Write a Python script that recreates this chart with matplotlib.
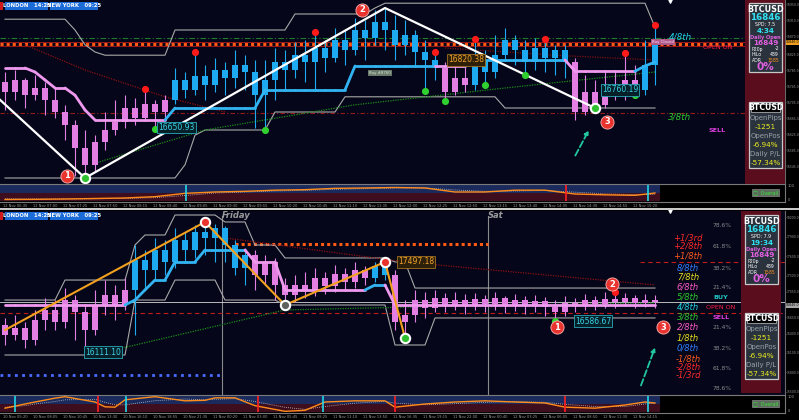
import matplotlib
matplotlib.use("Agg")
import matplotlib.pyplot as plt
import matplotlib.transforms as mtrans
from matplotlib.patches import Rectangle
from matplotlib.ticker import FormatStrFormatter

W, H = 799, 420
BG = "#05061a"
PINK = "#e37ee3"
BLUE = "#1daaf0"
GRAY = "#a8a8a8"

# ---------------- upper chart ----------------
top_open0 = 16755
top_close = [16730, 16760, 16722, 16740, 16710, 16680, 16648, 16590, 16548, 16605,
             16635, 16655, 16690, 16665, 16700, 16680, 16710, 16760, 16735, 16770,
             16748, 16785, 16765, 16798, 16780, 16722, 16760, 16805, 16785, 16822,
             16805, 16840, 16815, 16860, 16835, 16885, 16865, 16905, 16885, 16848,
             16872, 16830, 16810, 16790, 16730, 16765, 16748, 16810, 16780, 16822,
             16860, 16835, 16805, 16840, 16815, 16835, 16805, 16680, 16730, 16698,
             16740, 16720, 16760, 16735, 16798, 16848]
top_high = [16780, 16785, 16765, 16772, 16755, 16740, 16698, 16660, 16635, 16622,
            16680, 16710, 16722, 16715, 16730, 16710, 16722, 16790, 16780, 16822,
            16798, 16815, 16805, 16835, 16822, 16810, 16810, 16840, 16835, 16855,
            16860, 16872, 16860, 16890, 16885, 16915, 16910, 16935, 16940, 16922,
            16910, 16885, 16860, 16822, 16805, 16798, 16810, 16855, 16835, 16872,
            16890, 16872, 16860, 16865, 16855, 16848, 16848, 16815, 16772, 16760,
            16785, 16780, 16820, 16798, 16860, 16890]
top_low = [16685, 16710, 16690, 16710, 16672, 16665, 16610, 16520, 16515, 16530,
           16585, 16622, 16640, 16648, 16660, 16645, 16665, 16700, 16715, 16722,
           16710, 16730, 16722, 16740, 16735, 16640, 16642, 16710, 16735, 16765,
           16755, 16735, 16780, 16805, 16798, 16822, 16810, 16848, 16835, 16810,
           16822, 16798, 16740, 16760, 16715, 16722, 16730, 16735, 16755, 16765,
           16810, 16798, 16780, 16785, 16780, 16772, 16765, 16660, 16672, 16690,
           16690, 16710, 16710, 16730, 16722, 16748]
top_trend = "p" * 17 + "b" * 27 + "p" * 3 + "b" * 10 + "p" * 7 + "b" * 2
top_trail = ([16790] * 3 + [16780, 16760, 16740, 16740, 16722, 16685] + [16660] * 8
             + [16690] * 9 + [16735] * 9 + [16795] * 12 + [16802] + [16810] * 9
             + [16782] * 7 + [16795, 16805])
top_env_hi = ([16912] * 7 + [16885, 16848, 16830] + [16822] * 7 + [16885] * 12
              + [16925] * 8 + [16940] + [16952] * 27 + [16892])
top_env_lo = ([16515] * 18 + [16548, 16622] + [16635] * 7 + [16680] * 7
              + [16718] * 16 + [16690] * 16)
top_ma_red_x = [2, 8, 16, 22]
top_ma_red = [16848, 16785, 16718, 16680]
top_ma_red2_x = [44, 55, 65]
top_ma_red2 = [16840, 16822, 16810]
top_ma_green_x = [9, 20, 35, 50, 65]
top_ma_green = [16552, 16635, 16698, 16740, 16780]
top_zz_x = [-1, 8, 38, 59]
top_zz = [16722, 16515, 16940, 16690]
top_red_dots = [14, 19, 31, 43, 47, 54, 62, 65]
top_green_dots = [15, 26, 42, 44, 48, 52, 63]
top_nums = [(6.2, 16520, "1"), (35.7, 16935, "2"), (60.2, 16655, "3")]
top_tags = [(15.3, 16642, "16650.93", "teal"), (44.3, 16810, "16820.38", "orange"),
            (59.7, 16735, "16760.19", "teal")]
top_arrow = [(56.9, 16565), (58.5, 16640)]
top_mm_labels = ["4/8th", "3/8th"]
top_mm_prices = [16868, 16668]
top_mm_colors = ["#22d0e0", "#2ec82e"]
top_open_level = 16850
top_osc_x = [0, 3, 6, 9, 12, 15, 18, 21, 24, 27, 30, 33, 36, 39, 42, 45, 48, 51, 54, 57, 60, 63, 65]
top_osc = [11, 12, 14, 17, 20, 28, 48, 56, 60, 67, 70, 78, 80, 83, 80, 56, 56, 67, 67, 44, 39, 36, 50]
top_osc_sig = [15, 14, 14, 15, 18, 22, 35, 50, 56, 62, 66, 72, 76, 80, 81, 68, 60, 62, 65, 55, 45, 40, 42]
top_cyan_x = [18.1, 64.3]
top_red_x = [56.1]
top_times = ["12 Nov 06:35", "12 Nov 07:00", "12 Nov 07:25", "12 Nov 07:50", "12 Nov 08:15",
             "12 Nov 08:40", "12 Nov 09:05", "12 Nov 09:30", "12 Nov 09:55", "12 Nov 10:20",
             "12 Nov 10:45", "12 Nov 11:10", "12 Nov 11:35", "12 Nov 12:00", "12 Nov 12:25",
             "12 Nov 12:50", "12 Nov 13:15", "12 Nov 13:40", "12 Nov 14:05", "12 Nov 14:30",
             "12 Nov 14:55", "12 Nov 15:20"]
top_yticks = [16950, 16910, 16870, 16825, 16785, 16745, 16705, 16665, 16625, 16585, 16545]

# ---------------- lower chart ----------------
bot_open0 = 16533
bot_close = [16378, 16486, 16300, 16610, 16766, 16580, 16920, 16734, 16456, 16843,
             16998, 16843, 17076, 17540, 17386, 17696, 17510, 17850, 17696, 17974,
             17882, 18036, 17773, 17416, 17618, 17308, 17510, 17153, 16998, 17153,
             17076, 17262, 17138, 17324, 17200, 17386, 17262, 17448, 17308, 16580,
             16688, 16920, 16796, 16952, 16843, 16920, 16828, 16936, 16858, 16952,
             16843, 16920, 16828, 16905, 16812, 16734, 16874, 16828, 16920, 16858,
             16936, 16890, 16952, 16874, 16920, 16890]
bot_high = [16642, 16688, 16580, 16766, 16952, 16920, 17106, 16998, 16843, 17076,
            17230, 17153, 17262, 17773, 17696, 17882, 17850, 18036, 17974, 18083,
            18130, 18098, 18068, 17850, 17726, 17696, 17618, 17572, 17262, 17308,
            17354, 17416, 17354, 17463, 17416, 17510, 17448, 17510, 17510, 17386,
            16920, 17076, 17044, 17076, 17029, 17044, 17014, 17029, 16998, 17044,
            16982, 17014, 16982, 16998, 16967, 16920, 16982, 16952, 17014, 16982,
            17044, 16998, 17029, 16998, 17014, 16998]
bot_low = [16223, 16300, 16176, 16223, 16456, 16456, 16486, 16300, 16176, 16378,
           16688, 16610, 16766, 16378, 17076, 17230, 17308, 17416, 17510, 17572,
           17618, 17510, 17510, 17308, 17153, 17076, 17153, 16920, 16843, 16890,
           16952, 16982, 17014, 17044, 17076, 17106, 17153, 17200, 17230, 16456,
           16332, 16580, 16642, 16734, 16734, 16766, 16704, 16766, 16734, 16766,
           16719, 16750, 16704, 16734, 16672, 16642, 16672, 16734, 16766, 16766,
           16796, 16796, 16828, 16796, 16812, 16796]
bot_trend = "p" * 13 + "b" * 12 + "p" * 12 + "b" * 2 + "p" * 27
bot_trail = ([16843] * 13 + [16920, 17076, 17230, 17230] + [17510] * 3 + [17696] * 5
             + [17510] * 3 + [17076] * 9 + [17153] * 2 + [16843] * 27)
bot_env_hi = ([16920] * 6 + [17230] * 7 + [17773] + [17928] * 3 + [18238] * 5
              + [18130] * 3 + [17773] * 3 + [17572] * 11 + [17510] * 2 + [17106] * 25)
bot_env_lo = ([16068] * 13 + [16920] * 4 + [17230] * 5 + [16920] * 6 + [16843] * 11
              + [16223] * 4 + [16642] * 23)
bot_ma_red_x = [22, 40, 65]
bot_ma_red = [17882, 17510, 17153]
bot_ma_green_x = [10, 28, 45, 65]
bot_ma_green = [16114, 16766, 16828, 16874]
bot_zz_x = [0, 20, 28, 38, 40]
bot_zz = [16456, 18130, 16843, 17510, 16332]
bot_red_dots = [61]
bot_green_dots = [55]
bot_nums = [(55.2, 16502, "1"), (60.7, 17168, "2"), (65.8, 16502, "3")]
bot_tags = [(39.3, 17510, "17497.18", "orange"), (8.0, 16114, "16111.10", "teal"),
            (57.0, 16595, "16586.67", "teal")]
bot_arrow = [(63.5, 15556), (65.1, 16223)]
bot_mm_labels = ["+1/3rd", "+2/8th", "+1/8th", "8/8th", "7/8th", "6/8th", "5/8th", "4/8th",
                 "3/8th", "2/8th", "1/8th", "0/8th", "-1/8th", "-2/8th", "-1/3rd"]
bot_mm_prices = [17885, 17750, 17600, 17416, 17277, 17122, 16967, 16812,
                 16657, 16502, 16332, 16176, 16006, 15885, 15755]
bot_mm_colors = ["#ff2a2a", "#ff2a2a", "#ff5a1e", "#2f7fff", "#e8e020", "#ff5cc8", "#2ec82e",
                 "#22d0e0", "#2ec82e", "#ff5cc8", "#e8e020", "#2f7fff", "#ff5a1e", "#ff2a2a",
                 "#ff2a2a"]
bot_fib_labels = ["78.6%", "61.8%", "38.2%", "21.4%", "21.4%", "38.2%", "61.8%", "78.6%"]
bot_fib_prices = [18068, 17757, 17416, 17122, 16502, 16176, 15866, 15541]
bot_day_x = [21.7, 48.3]
bot_day_names = ["Friday", "Sat"]
bot_osc_x = [0, 2, 3, 5, 6, 9, 10, 11, 12, 15, 18, 20, 21, 23, 25, 28, 30, 32, 35, 38, 39,
             42, 45, 48, 51, 54, 56, 59, 62, 64, 65]
bot_osc = [25, 50, 62, 85, 94, 62, 33, 31, 75, 94, 69, 72, 87, 87, 40, 6, 12, 62, 69, 69, 31,
           50, 62, 69, 62, 56, 31, 25, 44, 62, 56]
bot_osc_sig = [30, 40, 50, 65, 75, 78, 60, 45, 45, 70, 80, 75, 78, 82, 65, 30, 18, 35, 55, 66,
               55, 45, 52, 60, 64, 60, 48, 35, 35, 50, 55]
bot_cyan_x = [1, 12.1, 31.8, 64.3]
bot_red_x = [9.3, 25.3, 39, 56]
bot_times = ["10 Nov 05:20", "10 Nov 08:05", "10 Nov 10:45", "10 Nov 13:30", "10 Nov 16:10",
             "10 Nov 18:55", "10 Nov 21:35", "11 Nov 00:20", "11 Nov 03:00", "11 Nov 05:45",
             "11 Nov 08:25", "11 Nov 11:10", "11 Nov 13:50", "11 Nov 16:35", "11 Nov 19:15",
             "11 Nov 22:00", "12 Nov 00:40", "12 Nov 03:25", "12 Nov 06:05", "12 Nov 08:50",
             "12 Nov 11:30", "12 Nov 14:15"]
bot_yticks = [18200, 17900, 17600, 17300, 17050, 16650, 16400, 16100, 15800, 15500]

# info panel texts
sym = "BTCUSD"
bid = "16846"
daily_open = "16849"
p20p = "-2"
hilo = "489"
adr = "1585"
day_pct = "0%"
open_pips = "-1251"
open_pos = "-6.94%"
daily_pl = "-57.34%"

TAG_STYLE = {"teal": ("#3ad2e6", "#06202a", "#2aa8b8"),
             "orange": ("#f0a030", "#2e2008", "#a07020")}

fig = plt.figure(figsize=(W / 100, H / 100), dpi=100, facecolor="black")


def px_axes(x0, y0, x1, y1):
    return fig.add_axes([x0 / W, 1 - y1 / H, (x1 - x0) / W, (y1 - y0) / H])


def setup_main(ax, ylo, yhi, yticks):
    ax.set_facecolor(BG)
    ax.set_xlim(-0.5, 78)
    ax.set_ylim(ylo, yhi)
    ax.set_xticks([])
    ax.yaxis.tick_right()
    ax.set_yticks(yticks)
    ax.yaxis.set_major_formatter(FormatStrFormatter("%.1f"))
    ax.tick_params(axis="y", labelsize=2.2, colors="#9a9a9a", length=1.0, width=0.4, pad=0.5)
    for s in ("top", "left", "bottom"):
        ax.spines[s].set_visible(False)
    ax.spines["right"].set_color("#6a6a6a")
    return (yhi - ylo) / 184.0


def draw_candles(ax, open0, close, high, low, trend, ppx):
    opens = [open0] + close[:-1]
    xs = list(range(len(close)))
    cols = [PINK if t == "p" else BLUE for t in trend]
    ax.vlines(xs, low, high, colors=cols, lw=0.8, zorder=4)
    bottoms = [min(o, c) for o, c in zip(opens, close)]
    heights = [max(abs(c - o), ppx * 1.2) for o, c in zip(opens, close)]
    ax.bar(xs, heights, bottom=bottoms, width=0.52, color=cols, lw=0, zorder=5)


def draw_trail(ax, trail, trend):
    for i in range(1, len(trail)):
        col = "#ee98ee" if trend[i] == "p" else "#33b4f2"
        ax.plot([i - 1, i], [trail[i - 1], trail[i]], color=col, lw=2.0,
                solid_capstyle="round", zorder=6)


def draw_marks(ax, high, low, red_idx, green_idx, nums, tags, arrow, ppx):
    ax.scatter(red_idx, [high[i] + 3 * ppx for i in red_idx], s=17, color="#ff1a1a", zorder=8)
    ax.scatter(green_idx, [low[i] - 3 * ppx for i in green_idx], s=17, color="#2fd02f", zorder=8)
    for x, y, t in nums:
        ax.scatter([x], [y], s=90, color="#e8332e", edgecolors="#ffb4b4", linewidths=0.6, zorder=11)
        ax.text(x, y, t, color="white", fontsize=6, fontweight="bold", ha="center",
                va="center", zorder=12)
    for x, y, t, kind in tags:
        tc, fc, ec = TAG_STYLE[kind]
        ax.text(x, y, t, fontsize=5.5, color=tc, ha="left", va="center", zorder=10,
                bbox=dict(boxstyle="square,pad=0.15", fc=fc, ec=ec, lw=0.6))
    ax.annotate("", xy=arrow[1], xytext=arrow[0], zorder=10,
                arrowprops=dict(arrowstyle="-|>", color="#22c8a0", lw=1.3, ls="--",
                                mutation_scale=6))


def draw_osc(ax, n, osc_x, osc, osc_sig, cyan_x, red_x, times):
    ax.set_facecolor("black")
    ax.fill_between([-0.5, n - 0.5], 50, 100, color="#1a2a5c", lw=0)
    ax.fill_between([-0.5, n - 0.5], 0, 50, color="#3e0d1e", lw=0)
    ax.plot(osc_x, osc_sig, color="#c8c8c8", lw=0.6, ls=(0, (1, 1.5)))
    ax.plot(osc_x, osc, color="#ff8c1a", lw=1.0)
    ax.vlines(cyan_x, 0, 100, color="#22d8e8", lw=1.2)
    ax.vlines(red_x, 0, 100, color="#ff1e1e", lw=1.2)
    ax.set_xlim(-0.5, 78)
    ax.set_ylim(-4, 104)
    ax.set_xticks(range(1, 3 * len(times), 3))
    ax.set_xticklabels(times)
    ax.set_yticks([])
    ax.tick_params(axis="x", labelsize=2.6, colors="#9a9a9a", length=0, pad=1.2)
    ax.spines["left"].set_visible(False)
    for s in ("top", "bottom", "right"):
        ax.spines[s].set_color("#7a7a7a")
        ax.spines[s].set_linewidth(0.8)


# ---------- upper main chart ----------
ax1 = px_axes(0, 0, 785, 184)
ppx1 = setup_main(ax1, 16500, 16960, top_yticks)
ax1.axhline(top_mm_prices[0] - 3, color="#1f7a2a", lw=0.8, ls=(0, (5, 2, 1, 2)))
ax1.axhline(top_open_level + 5, color="#b01a1a", lw=0.6)
ax1.axhline(top_open_level - 5, color="#b01a1a", lw=0.6)
ax1.axhline(top_open_level, color="#ff5a14", lw=2.2, ls=(0, (1, 1)))
ax1.axhline(top_mm_prices[1] + 10, color="#9a1a1a", lw=0.8, ls=(0, (4, 2, 1, 2)))
ax1.plot(range(len(top_env_hi)), top_env_hi, color=GRAY, lw=0.8, zorder=2)
ax1.plot(range(len(top_env_lo)), top_env_lo, color=GRAY, lw=0.8, zorder=2)
ax1.plot(top_ma_red_x, top_ma_red, color="#8a1010", lw=0.9, ls=(0, (1, 1)), zorder=2)
ax1.plot(top_ma_red2_x, top_ma_red2, color="#7a1010", lw=0.9, ls=(0, (1, 1)), zorder=2)
ax1.plot(top_ma_green_x, top_ma_green, color="#1c8a1c", lw=0.9, ls=(0, (1, 1)), zorder=2)
draw_trail(ax1, top_trail, top_trend)
draw_candles(ax1, top_open0, top_close, top_high, top_low, top_trend, ppx1)
ax1.plot(top_zz_x, top_zz, color="white", lw=1.6, zorder=7)
ax1.scatter([top_zz_x[1], top_zz_x[3]], [top_zz[1], top_zz[3]], s=45, color="#2fc02f",
            edgecolors="white", linewidths=1.5, zorder=9)
draw_marks(ax1, top_high, top_low, top_red_dots, top_green_dots, top_nums, top_tags,
           top_arrow, ppx1)
for t, p, c in zip(top_mm_labels, top_mm_prices, top_mm_colors):
    ax1.text(67.5, p, t, color=c, fontsize=6.3, style="italic", ha="center", va="center")
ax1.text(71.3, 16842, "OPEN ON", color="#ff2040", fontsize=4.6, ha="center", va="center")
ax1.text(71.2, 16635, "SELL", color="#e040e0", fontsize=4.6, fontweight="bold",
         ha="center", va="center")
ax1.text(37.5, 16778, "Buy #8760", color="#d8e8d8", fontsize=2.8, ha="center", va="center",
         zorder=10, bbox=dict(boxstyle="square,pad=0.2", fc="#6a7a6a", ec="none"))
ax1.text(64.7, 16855, "Buy Closed", color="#ffd8ff", fontsize=2.8, ha="left", va="center",
         zorder=10, bbox=dict(boxstyle="square,pad=0.2", fc="#b05a8a", ec="none"))

axo1 = px_axes(0, 184, 785, 202)
draw_osc(axo1, len(top_close), top_osc_x, top_osc, top_osc_sig, top_cyan_x, top_red_x,
         top_times)

# ---------- lower main chart ----------
ax2 = px_axes(0, 211, 785, 395)
ppx2 = setup_main(ax2, 15448, 18300, bot_yticks)
ax2.axhline(16890, color="#d8d8d8", lw=0.6)
ax2.axhline(16719, color="#c01c1c", lw=0.8, ls=(0, (4, 3)))
ax2.hlines(17788, 23, bot_day_x[1], color="#ff5a14", lw=2.2, ls=(0, (1, 1)))
ax2.hlines(15758, -0.5, bot_day_x[0], color="#4a6cff", lw=2.0, ls=(0, (1, 1.6)))
ax2.hlines(17510, 63.5, 78, color="#c01c1c", lw=0.8, ls=(0, (4, 3)))
blend = mtrans.blended_transform_factory(ax2.transData, ax2.transAxes)
for x, name in zip(bot_day_x, bot_day_names):
    ax2.axvline(x, ymax=0.975, color="#8a8a8a", lw=0.8, zorder=1)
    ax2.text(x, 0.998, name, transform=blend, color="#9a9a9a", fontsize=6, style="italic",
             fontweight="bold", ha="left", va="top")
ax2.plot(range(len(bot_env_hi)), bot_env_hi, color=GRAY, lw=0.8, zorder=2)
ax2.plot(range(len(bot_env_lo)), bot_env_lo, color=GRAY, lw=0.8, zorder=2)
ax2.plot(bot_ma_red_x, bot_ma_red, color="#8a1010", lw=0.9, ls=(0, (1, 1)), zorder=2)
ax2.plot(bot_ma_green_x, bot_ma_green, color="#1c8a1c", lw=0.9, ls=(0, (1, 1)), zorder=2)
draw_trail(ax2, bot_trail, bot_trend)
draw_candles(ax2, bot_open0, bot_close, bot_high, bot_low, bot_trend, ppx2)
ax2.plot(bot_zz_x, bot_zz, color="#f2a01e", lw=1.5, zorder=7)
ax2.scatter([bot_zz_x[1], bot_zz_x[3]], [bot_zz[1], bot_zz[3]], s=45, color="#e8332e",
            edgecolors="white", linewidths=1.5, zorder=9)
ax2.scatter([bot_zz_x[2]], [bot_zz[2]], s=45, color="#606060", edgecolors="white",
            linewidths=1.5, zorder=9)
ax2.scatter([bot_zz_x[4]], [bot_zz[4]], s=45, color="#2fc02f", edgecolors="white",
            linewidths=1.5, zorder=9)
draw_marks(ax2, bot_high, bot_low, bot_red_dots, bot_green_dots, bot_nums, bot_tags,
           bot_arrow, ppx2)
for t, p, c in zip(bot_mm_labels, bot_mm_prices, bot_mm_colors):
    ax2.text(68.3, p, t, color=c, fontsize=6.0, style="italic", ha="center", va="center")
for t, p in zip(bot_fib_labels, bot_fib_prices):
    ax2.text(71.7, p, t, color="#8a8a8a", fontsize=4.3, ha="center", va="center")
ax2.text(71.6, bot_mm_prices[6], "BUY", color="#22c8c8", fontsize=4.6, fontweight="bold",
         ha="center", va="center")
ax2.text(71.6, bot_mm_prices[7], "OPEN ON", color="#ff2040", fontsize=4.6, ha="center",
         va="center")
ax2.text(71.6, bot_mm_prices[8], "SELL", color="#e040e0", fontsize=4.6, fontweight="bold",
         ha="center", va="center")

axo2 = px_axes(0, 395, 785, 413)
draw_osc(axo2, len(bot_close), bot_osc_x, bot_osc, bot_osc_sig, bot_cyan_x, bot_red_x,
         bot_times)

# ---------- overlay: sessions, info panels, separators ----------
ov = fig.add_axes([0, 0, 1, 1])
ov.set_xlim(0, W)
ov.set_ylim(H, 0)
ov.axis("off")
ov.patch.set_alpha(0)


def sessions(y0):
    ov.add_patch(Rectangle((0, y0), 3, 8, fc="#d01818", ec="none"))
    ov.add_patch(Rectangle((5, y0), 43, 8, fc="#1c6cd8", ec="none"))
    ov.add_patch(Rectangle((50, y0), 48, 8, fc="#1c6cd8", ec="none"))
    ov.text(26.5, y0 + 4.3, "LONDON   14:25", color="white", fontsize=3.8, fontweight="bold",
            ha="center", va="center")
    ov.text(74, y0 + 4.3, "NEW YORK   09:25", color="white", fontsize=3.8, fontweight="bold",
            ha="center", va="center")
    ov.scatter([670], [y0 - 0.5], marker="v", s=6, color="white")


def info(x0, top, bottom, b1, b2, clock, spd):
    ov.add_patch(Rectangle((x0 - 4, top), 40, bottom - top, fc="#5a0d1d", ec="none"))
    w = 33
    cx = x0 + w / 2
    ov.add_patch(Rectangle((x0, b1), w, 69, fc="#29323d", ec="#c8c8c8", lw=0.9))
    ov.text(cx, b1 + 7, sym, color="white", fontsize=5.8, fontweight="bold", ha="center", va="center")
    ov.text(cx, b1 + 15, bid, color="#30e0f0", fontsize=6.3, fontweight="bold", ha="center", va="center")
    ov.text(cx, b1 + 22, spd, color="white", fontsize=3.4, ha="center", va="center")
    ov.text(cx, b1 + 28, clock, color="#30e0f0", fontsize=5.2, fontweight="bold", ha="center", va="center")
    ov.text(cx, b1 + 34, "Daily Open", color="#e060e0", fontsize=3.6, fontweight="bold", ha="center", va="center")
    ov.text(cx, b1 + 40, daily_open, color="#e060e0", fontsize=5.2, fontweight="bold", ha="center", va="center")
    for k, (lab, val, vc) in enumerate([("P20p", p20p, "white"), ("HiLo", hilo, "white"),
                                        ("ADR", adr, "#ff9020")]):
        ov.text(x0 + 3, b1 + 46 + 5.5 * k, lab, color="white", fontsize=3.3, ha="left", va="center")
        ov.text(x0 + w - 3, b1 + 46 + 5.5 * k, val, color=vc, fontsize=3.3, ha="right", va="center")
    ov.text(cx, b1 + 64, day_pct, color="#e060e0", fontsize=7.5, fontweight="bold", ha="center", va="center")
    ov.add_patch(Rectangle((x0, b2), w, 66, fc="#29323d", ec="#c8c8c8", lw=0.9))
    ov.add_patch(Rectangle((x0 + 2, b2 + 1.5), w - 4, 8, fc="black", ec="#c8c8c8", lw=0.5))
    ov.text(cx, b2 + 5.5, sym, color="white", fontsize=5.6, fontweight="bold", ha="center", va="center")
    for k, (lab, val) in enumerate([("OpenPips", open_pips), ("OpenPos", open_pos),
                                    ("Daily P/L", daily_pl)]):
        ov.text(cx, b2 + 16 + 18 * k, lab, color="#9aa2aa", fontsize=5, ha="center", va="center")
        ov.text(cx, b2 + 25 + 18 * k, val, color="#f0f020", fontsize=5.2, ha="center", va="center")


def overall(y0):
    ov.add_patch(Rectangle((752, y0), 27, 7, fc="#5c6c5c", ec="#8a8a8a", lw=0.5))
    ov.text(765.5, y0 + 3.6, "\u25a1  Overall", color="#38e838", fontsize=3.5, ha="center", va="center")


sessions(1.5)
sessions(211.5)
info(749, 0, 184, 3, 102, "4:34", "SPD: 7.5")
info(745, 211, 393, 215, 313, "19:34", "SPD: 7.9")
overall(189)
overall(400)
ov.add_patch(Rectangle((0, 207.5), W, 2, fc="#c8c8c8", ec="none"))
ov.add_patch(Rectangle((786, 39.5), 13, 5, fc="#f0a020", ec="none"))
ov.text(792.5, 42, "16846.0", color="black", fontsize=2.3, ha="center", va="center")
ov.add_patch(Rectangle((786, 302.5), 13, 5, fc="#a8a8a8", ec="none"))
ov.text(792.5, 305, "16846.0", color="black", fontsize=2.3, ha="center", va="center")
for y0, lab in [(186, "100"), (200, "0"), (397, "100"), (411, "0")]:
    ov.text(788, y0, lab, color="#9a9a9a", fontsize=2.6, ha="left", va="center")

fig.savefig("out.png", dpi=100, facecolor="black")
